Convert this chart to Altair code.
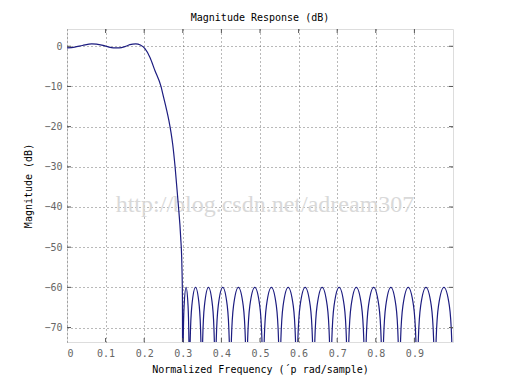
import altair as alt
import pandas as pd

# Magnitude response (normalized frequency, dB)
FREQ = [
    0.000, 0.020, 0.040, 0.064, 0.090, 0.105, 0.120, 0.135, 0.150, 0.163,
    0.178, 0.190, 0.202, 0.215, 0.228, 0.2435, 0.250, 0.258, 0.264, 0.2695,
    0.274, 0.280, 0.288, 0.2945, 0.2975, 0.2990, 0.300,
    0.3012, 0.3034, 0.3085, 0.3136, 0.3158, 0.317,
    0.3192, 0.3234, 0.333, 0.3426, 0.3468, 0.349,
    0.3515, 0.356, 0.3665, 0.377, 0.3816, 0.384,
    0.3867, 0.3918, 0.4035, 0.4152, 0.4203, 0.423,
    0.4259, 0.4314, 0.444, 0.4566, 0.4621, 0.465,
    0.468, 0.4736, 0.4865, 0.4994, 0.505, 0.508,
    0.511, 0.5166, 0.5295, 0.5424, 0.548, 0.551,
    0.5541, 0.5598, 0.573, 0.5862, 0.5919, 0.595,
    0.5981, 0.6038, 0.617, 0.6302, 0.6359, 0.639,
    0.6421, 0.6478, 0.661, 0.6742, 0.6799, 0.683,
    0.6861, 0.6918, 0.705, 0.7182, 0.7239, 0.727,
    0.7302, 0.736, 0.7495, 0.763, 0.7689, 0.772,
    0.7752, 0.781, 0.7945, 0.808, 0.8139, 0.817,
    0.8201, 0.8258, 0.839, 0.8522, 0.8579, 0.861,
    0.8642, 0.8702, 0.884, 0.8978, 0.9038, 0.907,
    0.9102, 0.9162, 0.930, 0.9438, 0.9498, 0.953,
    0.9563, 0.9624, 0.9765, 0.9906, 0.9967, 1.000,
]
MAG_DB = [
    -0.4, -0.2, 0.2, 0.6, 0.3, -0.1, -0.4, -0.4, -0.1, 0.4,
    0.6, 0.3, -0.6, -2.8, -6.1, -10.0, -12.6, -15.8, -18.5, -21.5,
    -24.5, -30.0, -39.0, -47.5, -54.0, -62.0, -95.0,
    -73, -64.6, -60, -64.6, -73, -95,
    -73, -64.6, -60, -64.6, -73, -95,
    -73, -64.6, -60, -64.6, -73, -95,
    -73, -64.6, -60, -64.6, -73, -95,
    -73, -64.6, -60, -64.6, -73, -95,
    -73, -64.6, -60, -64.6, -73, -95,
    -73, -64.6, -60, -64.6, -73, -95,
    -73, -64.6, -60, -64.6, -73, -95,
    -73, -64.6, -60, -64.6, -73, -95,
    -73, -64.6, -60, -64.6, -73, -95,
    -73, -64.6, -60, -64.6, -73, -95,
    -73, -64.6, -60, -64.6, -73, -95,
    -73, -64.6, -60, -64.6, -73, -95,
    -73, -64.6, -60, -64.6, -73, -95,
    -73, -64.6, -60, -64.6, -73, -95,
    -73, -64.6, -60, -64.6, -73, -95,
    -73, -64.6, -60, -64.6, -73, -95,
]

X_TICKS = [0, 0.1, 0.2, 0.3, 0.4, 0.5, 0.6, 0.7, 0.8, 0.9]
Y_TICKS = [0, -10, -20, -30, -40, -50, -60, -70]
X_DOMAIN = [0, 1]
Y_DOMAIN = [-73.6, 4.3]

TITLE = "Magnitude Response (dB)"
X_TITLE = "Normalized Frequency (\u00b4p rad/sample)"
Y_TITLE = "Magnitude (dB)"
WATERMARK = "http://blog.csdn.net/adream307"

W, H = 386, 313
FONT = "DejaVu Sans Mono"

df = pd.DataFrame({"f": FREQ, "db": MAG_DB})

xscale = alt.Scale(domain=X_DOMAIN, nice=False, zero=False)
yscale = alt.Scale(domain=Y_DOMAIN, nice=False, zero=False)

grid_style = dict(grid=True, gridDash=[1, 3], gridColor="#444444",
                  gridOpacity=0.75, ticks=False, domain=False)
xaxis = alt.Axis(values=X_TICKS, format=".1~f", **grid_style,
                 labelColor="#666666", labelFont=FONT, labelFontSize=10,
                 labelPadding=6, title=X_TITLE, titleFont=FONT,
                 titleFontSize=10, titleFontWeight="normal", titleColor="#000000",
                 titlePadding=6)
yaxis = alt.Axis(values=Y_TICKS, format="d", **grid_style,
                 labelColor="#666666", labelFont=FONT, labelFontSize=10,
                 labelPadding=5, title=Y_TITLE, titleFont=FONT,
                 titleFontSize=10, titleFontWeight="normal", titleColor="#000000",
                 titlePadding=10)

watermark = alt.Chart(pd.DataFrame({"t": [WATERMARK]})).mark_text(
    font="Liberation Serif", fontSize=24, color="#d9d9d9", align="center",
    baseline="middle"
).encode(x=alt.value(198), y=alt.value(176), text="t:N")

line = alt.Chart(df).mark_line(
    color="#1c1c80", strokeWidth=1.2, clip=True, interpolate="monotone"
).encode(
    x=alt.X("f:Q", scale=xscale, axis=xaxis),
    y=alt.Y("db:Q", scale=yscale, axis=yaxis),
)

xt = pd.DataFrame({"v": X_TICKS[1:]})
yt = pd.DataFrame({"v": Y_TICKS})
tick_style = dict(color="#555555", strokeWidth=1)
xt_bottom = alt.Chart(xt).mark_rule(**tick_style).encode(
    x=alt.X("v:Q", scale=xscale), y=alt.value(H - 4), y2=alt.value(H))
xt_top = alt.Chart(xt).mark_rule(**tick_style).encode(
    x=alt.X("v:Q", scale=xscale), y=alt.value(0), y2=alt.value(4))
yt_left = alt.Chart(yt).mark_rule(**tick_style).encode(
    y=alt.Y("v:Q", scale=yscale), x=alt.value(0), x2=alt.value(4))
yt_right = alt.Chart(yt).mark_rule(**tick_style).encode(
    y=alt.Y("v:Q", scale=yscale), x=alt.value(W - 4), x2=alt.value(W))

chart = alt.layer(watermark, line, xt_bottom, xt_top, yt_left, yt_right).properties(
    width=W, height=H,
    title=alt.Title(TITLE, font=FONT, fontSize=10, fontWeight="normal",
                    color="#000000", anchor="middle", offset=6),
    autosize=alt.AutoSizeParams(type="none"),
    padding={"left": 59, "top": 21, "right": 51, "bottom": 34},
).configure_view(stroke="#555555", strokeWidth=1).configure(background="white")

chart.save("out.html", embed_options={"renderer": "svg", "actions": False})
